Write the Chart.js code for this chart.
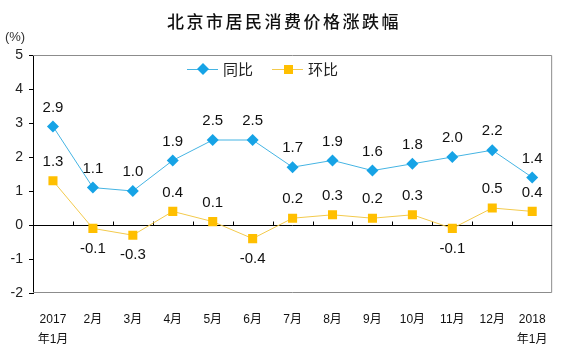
<!DOCTYPE html>
<html>
<head>
<meta charset="utf-8">
<script src="https://cdn.jsdelivr.net/npm/chart.js@4/dist/chart.umd.min.js"></script>
<style>
  html, body { margin: 0; padding: 0; background: #fff; }
  #wrap { width: 565px; height: 354px; position: relative; }
</style>
</head>
<body>
<div id="wrap"><canvas id="cpi"></canvas></div>
<script>
// chart data
var title = '北京市居民消费价格涨跌幅';
var unitLabel = '(%)';
var months = [['2017', '年1月'], '2月', '3月', '4月', '5月', '6月', '7月', '8月', '9月', '10月', '11月', '12月', ['2018', '年1月']];
var yoy = [2.9, 1.1, 1.0, 1.9, 2.5, 2.5, 1.7, 1.9, 1.6, 1.8, 2.0, 2.2, 1.4];
var mom = [1.3, -0.1, -0.3, 0.4, 0.1, -0.4, 0.2, 0.3, 0.2, 0.3, -0.1, 0.5, 0.4];
var seriesNames = ['同比', '环比'];
var yTicks = [-2, -1, 0, 1, 2, 3, 4, 5];

var FONT = '"Liberation Sans", "Noto Sans CJK SC", sans-serif';

// frame, zero line, title, legend and value labels
var decorPlugin = {
	id: 'decor',
	beforeDatasetsDraw: function(chart) {
		var ctx = chart.ctx, a = chart.chartArea;
		var x = chart.scales.x, y = chart.scales.y;
		ctx.save();
		// grey frame (top, right, bottom)
		ctx.strokeStyle = '#8c8c8c';
		ctx.lineWidth = 1;
		ctx.beginPath();
		ctx.moveTo(a.left, a.top + 0.5);
		ctx.lineTo(a.right - 0.5, a.top + 0.5);
		ctx.lineTo(a.right - 0.5, a.bottom - 0.5);
		ctx.lineTo(a.left, a.bottom - 0.5);
		ctx.stroke();
		// zero line with category ticks
		var y0 = Math.round(y.getPixelForValue(0)) + 0.5;
		ctx.strokeStyle = '#000';
		ctx.beginPath();
		ctx.moveTo(a.left, y0);
		ctx.lineTo(a.right, y0);
		var half = (x.getPixelForValue(1) - x.getPixelForValue(0)) / 2;
		for (var i = 1; i < months.length; i++) {
			var tx = Math.round(x.getPixelForValue(i) - half) + 0.5;
			ctx.moveTo(tx, y0);
			ctx.lineTo(tx, y0 - 4);
		}
		ctx.stroke();
		ctx.restore();
	},
	afterDatasetsDraw: function(chart) {
		var ctx = chart.ctx;
		ctx.save();
		// title
		ctx.fillStyle = '#111';
		ctx.font = '500 17px "Noto Sans CJK SC", sans-serif';
		ctx.textAlign = 'center';
		ctx.textBaseline = 'middle';
		if ('letterSpacing' in ctx) ctx.letterSpacing = '2.5px';
		ctx.fillText(title, 284, 22);
		if ('letterSpacing' in ctx) ctx.letterSpacing = '0px';
		// unit
		ctx.font = '13px ' + FONT;
		ctx.fillStyle = '#333';
		ctx.fillText(unitLabel, 15, 37);

		// legend
		var lx = [187, 272];
		chart.data.datasets.forEach(function(ds, d) {
			var x0 = lx[d], ly = 69;
			ctx.strokeStyle = ds.borderColor;
			ctx.lineWidth = 1;
			ctx.beginPath();
			ctx.moveTo(x0, ly + 0.5);
			ctx.lineTo(x0 + 31, ly + 0.5);
			ctx.stroke();
			ctx.fillStyle = ds.pointBackgroundColor;
			ctx.beginPath();
			if (ds.pointStyle === 'rectRot') {
				ctx.moveTo(x0 + 16, ly - 6);
				ctx.lineTo(x0 + 22, ly);
				ctx.lineTo(x0 + 16, ly + 6);
				ctx.lineTo(x0 + 10, ly);
				ctx.closePath();
				ctx.fill();
			} else {
				ctx.fillRect(x0 + 12, ly - 4, 9, 9);
			}
			ctx.fillStyle = '#222';
			ctx.font = '15px "Noto Sans CJK SC", sans-serif';
			ctx.textAlign = 'left';
			ctx.fillText(ds.label, x0 + 36, ly);
		});

		// value labels
		ctx.font = '15px ' + FONT;
		ctx.fillStyle = '#111';
		ctx.textAlign = 'center';
		ctx.textBaseline = 'middle';
		chart.data.datasets.forEach(function(ds, d) {
			var meta = chart.getDatasetMeta(d);
			meta.data.forEach(function(pt, i) {
				var v = ds.data[i];
				var dy = v < 0 ? 20 : -19;
				ctx.fillText(v.toFixed(1), pt.x, pt.y + dy);
			});
		});
		ctx.restore();
	}
};

new Chart(document.getElementById('cpi').getContext('2d'), {
	type: 'line',
	data: {
		labels: months,
		datasets: [{
			label: seriesNames[0],
			data: yoy,
			borderColor: '#45b4e3',
			borderWidth: 1,
			pointStyle: 'rectRot',
			pointRadius: 6,
			pointHoverRadius: 6,
			pointBackgroundColor: '#16a3e6',
			pointBorderColor: '#16a3e6',
			pointBorderWidth: 0,
			tension: 0
		}, {
			label: seriesNames[1],
			data: mom,
			borderColor: '#f3ca4c',
			borderWidth: 1,
			pointStyle: 'rect',
			pointRadius: 6.4,
			pointHoverRadius: 6.4,
			pointBackgroundColor: '#ffbf00',
			pointBorderColor: '#ffbf00',
			pointBorderWidth: 0,
			tension: 0
		}]
	},
	options: {
		responsive: true,
		maintainAspectRatio: false,
		animation: false,
		events: [],
		layout: { padding: { top: 55, right: 12, left: 0, bottom: 0 } },
		plugins: {
			legend: { display: false },
			title: { display: false },
			tooltip: { enabled: false }
		},
		scales: {
			x: {
				offset: true,
				grid: { display: false, drawTicks: false },
				border: { display: false },
				ticks: {
					color: '#111',
					padding: 17,
					maxRotation: 0,
					autoSkip: false,
					font: { family: '"Liberation Sans", "Noto Sans CJK SC", sans-serif', size: 12, lineHeight: 1.65 }
				},
				afterFit: function(s) { s.height = 61; }
			},
			y: {
				min: -2,
				max: 5,
				afterBuildTicks: function(s) { s.ticks = yTicks.map(function(v) { return { value: v }; }); },
				grid: { drawOnChartArea: false, drawTicks: true, tickLength: 4, color: '#000' },
				border: { display: true, color: '#000' },
				ticks: {
					color: '#222',
					padding: 6,
					font: { family: FONT, size: 14 }
				},
				afterFit: function(s) { s.width = 33; }
			}
		}
	},
	plugins: [decorPlugin]
});
</script>
</body>
</html>
